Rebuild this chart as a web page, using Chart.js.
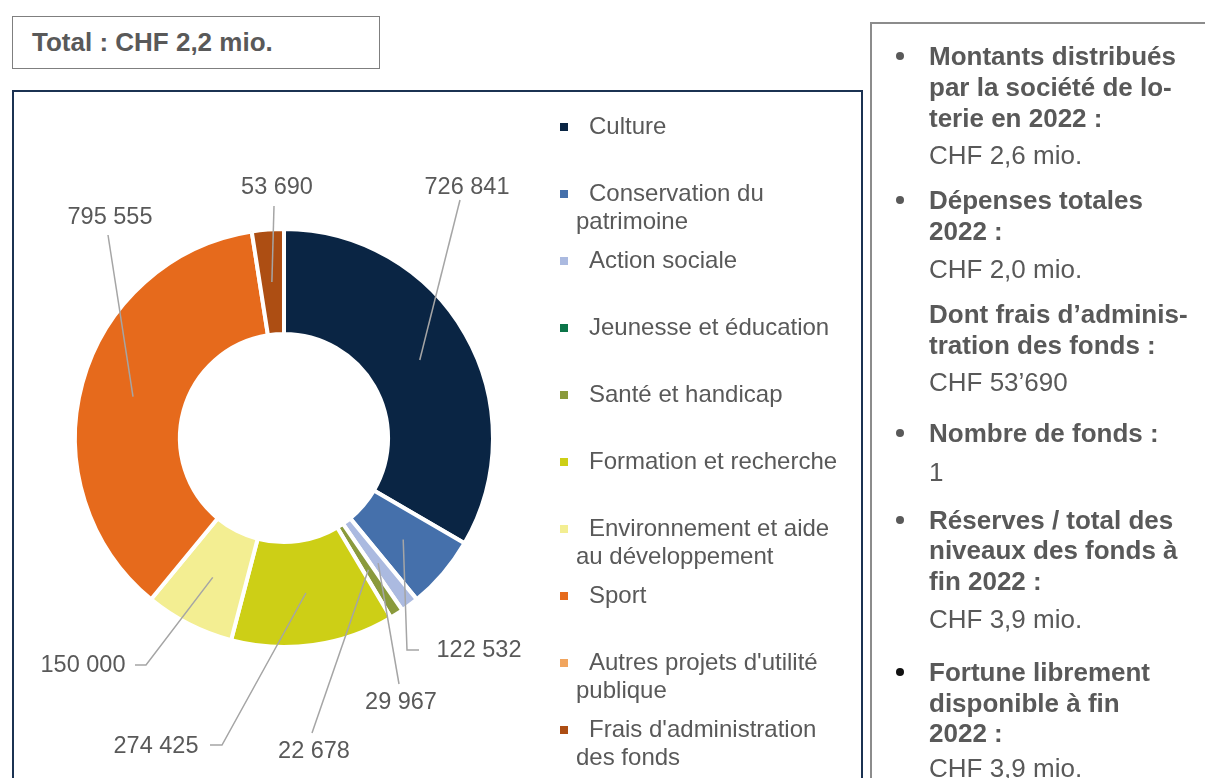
<!DOCTYPE html>
<html>
<head>
<meta charset="utf-8">
<script src="https://cdn.jsdelivr.net/npm/chart.js@4.4.1/dist/chart.umd.min.js"></script>
<style>
  html, body { margin:0; padding:0; }
  body { width:1205px; height:778px; overflow:hidden; background:#fff; position:relative;
         font-family:"Liberation Sans", Arial, sans-serif; color:#595959; }
  .abs { position:absolute; }
  .pl { position:absolute; left:929px; font-size:26px; line-height:1; white-space:nowrap; transform:translateY(-50%); }
  .bul { position:absolute; left:896px; width:8px; height:8px; border-radius:50%; transform:translateY(-50%); }
</style>
</head>
<body>
<div class="abs" style="left:12px;top:16px;width:366px;height:51px;border:1px solid #7f7f7f;box-sizing:border-box;width:368px;height:53px;"></div>
<div class="abs" style="left:32px;top:42px;transform:translateY(-50%);font-weight:bold;font-size:26px;line-height:1;white-space:nowrap;">Total : CHF 2,2 mio.</div>
<div class="abs" style="left:12px;top:90px;width:851px;height:720px;border:2px solid #1b3252;box-sizing:border-box;"></div>
<div class="abs" style="left:870px;top:22px;width:400px;height:800px;border:2px solid #8c8c8c;box-sizing:border-box;"></div>
<canvas id="c" width="1205" height="778" style="position:absolute;left:0;top:0;"></canvas>
<div id="panel"></div>
<script>
// ---- data ----
const categories = [
  "Culture",
  "Conservation du patrimoine",
  "Action sociale",
  "Jeunesse et éducation",
  "Santé et handicap",
  "Formation et recherche",
  "Environnement et aide au développement",
  "Sport",
  "Autres projets d'utilité publique",
  "Frais d'administration des fonds"
];
const values = [726841, 122532, 29967, 0, 22678, 274425, 150000, 795555, 0, 53690];
const colors = ["#0a2544", "#4570ab", "#abbae0", "#0b7448", "#8a9a3c", "#cdcf16", "#f3ee92", "#e66a1c", "#f1a55e", "#ad4e13"];

// label placement (offsets from chart centre, layout only)
const labelLayout = [
  {text:[183,-250], path:[[176,-238]]},
  {text:[195,213], path:[[123,212],[135,212]]},
  {text:[117,265], path:[[115,246]]},
  null,
  {text:[30,314], path:[[28,295]]},
  {text:[-128,309], path:[[-62,307],[-74,307]]},
  {text:[-201,228], path:[[-138,227],[-149,227]]},
  {text:[-174,-220], path:[[-176,-203]]},
  null,
  {text:[-7,-250], path:[[-10,-232]]}
];

// side panel text
const panelLines = [
  ["Montants distribués", 1, 56, "#595959"],
  ["par la société de lo-", 1, 87],
  ["terie en 2022 :", 1, 118],
  ["CHF 2,6 mio.", 0, 155],
  ["Dépenses totales", 1, 200, "#595959"],
  ["2022 :", 1, 231],
  ["CHF 2,0 mio.", 0, 269],
  ["Dont frais d’adminis-", 1, 314],
  ["tration des fonds :", 1, 345],
  ["CHF 53’690", 0, 382],
  ["Nombre de fonds :", 1, 433, "#595959"],
  ["1", 0, 472],
  ["Réserves / total des", 1, 520, "#595959"],
  ["niveaux des fonds à", 1, 550],
  ["fin 2022 :", 1, 581],
  ["CHF 3,9 mio.", 0, 619],
  ["Fortune librement", 1, 672, "#111111"],
  ["disponible à fin", 1, 703],
  ["2022 :", 1, 733],
  ["CHF 3,9 mio.", 0, 768]
];

const panel = document.getElementById('panel');
panelLines.forEach(l => {
  const d = document.createElement('div');
  d.className = 'pl';
  d.style.top = l[2] + 'px';
  d.style.fontWeight = l[1] ? 'bold' : 'normal';
  d.textContent = l[0];
  panel.appendChild(d);
  if (l[3]) {
    const b = document.createElement('div');
    b.className = 'bul';
    b.style.top = l[2] + 'px';
    b.style.background = l[3];
    panel.appendChild(b);
  }
});

const fmt = v => v.toString().replace(/\B(?=(\d{3})+(?!\d))/g, ' ');
const FONT = '"Liberation Sans", Arial, sans-serif';

const leaderPlugin = {
  id: 'leaders',
  afterDatasetsDraw(chart) {
    const ctx = chart.ctx;
    const meta = chart.getDatasetMeta(0);
    const cx = meta.data[0].x, cy = meta.data[0].y;
    ctx.save();
    meta.data.forEach((arc, i) => {
      const v = values[i];
      const L = labelLayout[i];
      if (!v || !L) return;
      const p = arc.getCenterPoint();
      ctx.beginPath();
      ctx.moveTo(p.x, p.y);
      L.path.forEach(q => ctx.lineTo(cx + q[0], cy + q[1]));
      ctx.strokeStyle = '#a5a5a5';
      ctx.lineWidth = 1.5;
      ctx.stroke();
      ctx.fillStyle = '#595959';
      ctx.font = '23.5px ' + FONT;
      ctx.textAlign = 'center';
      ctx.textBaseline = 'middle';
      ctx.fillText(fmt(v), cx + L.text[0], cy + L.text[1]);
    });
    ctx.restore();
  }
};

const legendOpts = { x: 560, top: 127, step: 67, box: 8, textX1: 589, textX2: 576, maxRight: 846, lineH: 28, size: 24 };
const legendPlugin = {
  id: 'sideLegend',
  afterDraw(chart) {
    const ctx = chart.ctx;
    const o = legendOpts;
    ctx.save();
    ctx.font = o.size + 'px ' + FONT;
    ctx.textBaseline = 'middle';
    ctx.textAlign = 'left';
    categories.forEach((cat, i) => {
      const y = o.top + i * o.step;
      ctx.fillStyle = colors[i];
      ctx.fillRect(o.x, Math.round(y - o.box / 2), o.box, o.box);
      ctx.fillStyle = '#595959';
      const words = cat.split(' ');
      let line = '', lines = [], startX = o.textX1;
      words.forEach(w => {
        const test = line ? line + ' ' + w : w;
        if (line && startX + ctx.measureText(test).width > o.maxRight) {
          lines.push([line, startX]);
          line = w; startX = o.textX2;
        } else line = test;
      });
      lines.push([line, startX]);
      lines.forEach((ln, k) => ctx.fillText(ln[0], ln[1], y + k * o.lineH));
    });
    ctx.restore();
  }
};

new Chart(document.getElementById('c'), {
  type: 'doughnut',
  data: {
    labels: categories,
    datasets: [{
      data: values,
      backgroundColor: colors,
      borderColor: '#ffffff',
      borderWidth: 4
    }]
  },
  options: {
    responsive: false,
    animation: false,
    devicePixelRatio: 1,
    radius: 209,
    cutout: '49.8%',
    layout: { padding: { left: 77, right: 714, top: 231, bottom: 133 } },
    plugins: { legend: { display: false }, tooltip: { enabled: false } }
  },
  plugins: [leaderPlugin, legendPlugin]
});
</script>
</body>
</html>
